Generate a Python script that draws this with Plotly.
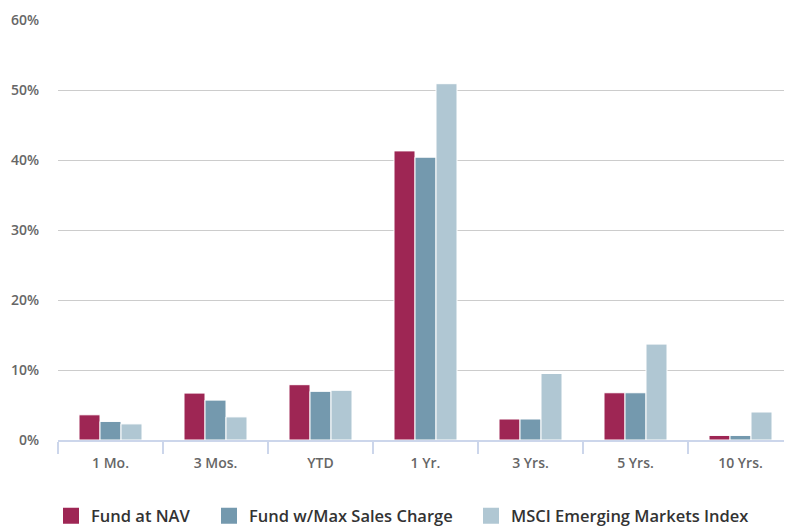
import plotly.graph_objects as go

categories = ["1 Mo.", "3 Mos.", "YTD", "1 Yr.", "3 Yrs.", "5 Yrs.", "10 Yrs."]
fund_nav = [3.6, 6.7, 7.9, 41.3, 3.0, 6.75, 0.65]
fund_max = [2.65, 5.7, 6.95, 40.4, 3.0, 6.75, 0.65]
msci_em = [2.3, 3.3, 7.1, 50.9, 9.5, 13.7, 4.0]
series_names = ["Fund at NAV", "Fund w/Max Sales Charge", "MSCI Emerging Markets Index"]
colors = ["#9E2654", "#7499AE", "#B0C7D3"]
y_ticks = [0, 10, 20, 30, 40, 50, 60]
y_tick_labels = ["0%", "10%", "20%", "30%", "40%", "50%", "60%"]

# the page body adds an 8px offset, compensated here
L, R, T, B = 50, 7, 12, 95
W, H = 792, 527
PW = W - L - R
PH = H - T - B

fig = go.Figure()
for name, vals, col in zip(series_names, [fund_nav, fund_max, msci_em], colors):
    fig.add_trace(go.Bar(
        x=categories, y=vals, name=name, showlegend=False,
        marker=dict(color=col, line=dict(color="#ffffff", width=1)),
        hoverinfo="x+y",
    ))
legend_ids = ["legend", "legend2", "legend3"]
legend_px = [43, 201, 463]
for name, col, lid in zip(series_names, colors, legend_ids):
    fig.add_trace(go.Scatter(
        x=[None], y=[None], mode="markers", name=name, legend=lid,
        marker=dict(symbol="square", size=18, color=col),
    ))

legend_common = dict(
    orientation="h", yanchor="middle", y=-(508 - (T + PH)) / PH,
    xanchor="left",
    font=dict(size=16.5, color="#333333", weight=600),
    itemwidth=30, bgcolor="rgba(0,0,0,0)",
)

fig.update_layout(
    width=W, height=H,
    margin=dict(l=L, r=R, t=T, b=B, autoexpand=False),
    paper_bgcolor="#ffffff", plot_bgcolor="#ffffff",
    barmode="group", bargap=0.4, bargroupgap=0.0,
    font=dict(family="Open Sans, sans-serif", color="#666666"),
    legend=dict(legend_common, x=(legend_px[0] - L) / PW),
    legend2=dict(legend_common, x=(legend_px[1] - L) / PW),
    legend3=dict(legend_common, x=(legend_px[2] - L) / PW),
    xaxis=dict(
        type="category", automargin=False,
        showline=True, linecolor="#ccd6eb", linewidth=2,
        ticks="outside", tickson="boundaries", ticklen=12, tickcolor="#ccd6eb", tickwidth=2,
        tickfont=dict(size=14, color="#666666", weight=600),
        ticklabelstandoff=9,
        showgrid=False, zeroline=False,
    ),
    yaxis=dict(
        range=[0, 60], tickvals=y_ticks, ticktext=y_tick_labels, automargin=False,
        showgrid=True, gridcolor="#cccccc", gridwidth=1,
        zeroline=False, showline=False,
        tickfont=dict(size=14, color="#666666", weight=600),
        ticklabelstandoff=18,
    ),
)

fig.write_html("out.html")
